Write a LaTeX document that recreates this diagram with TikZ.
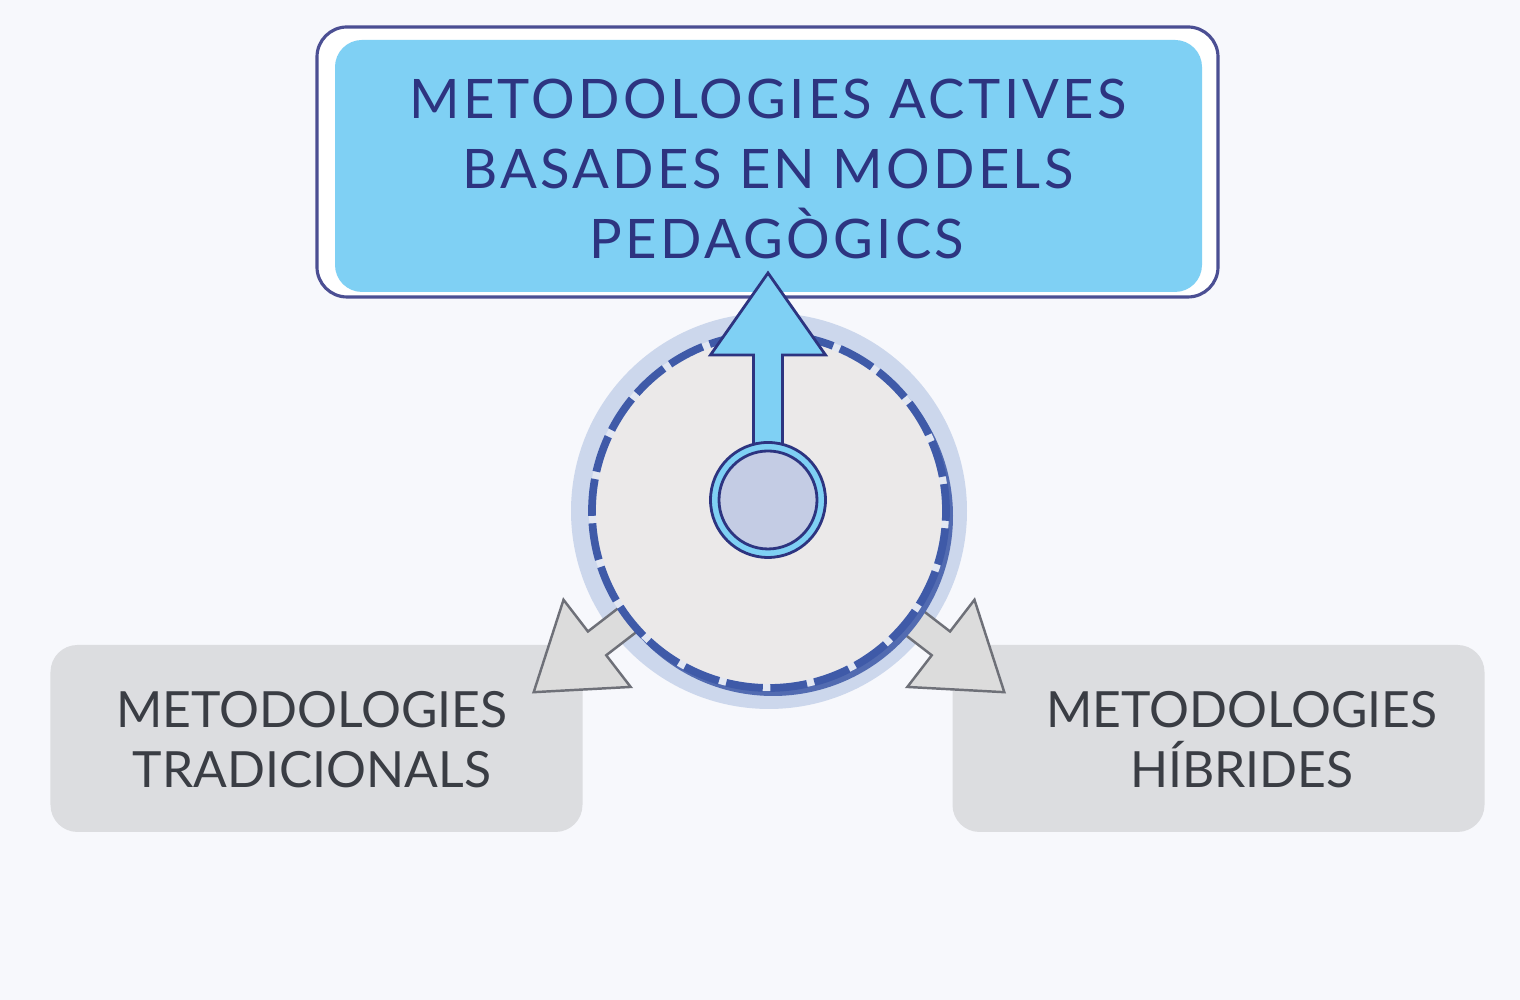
\documentclass[tikz,border=0pt]{standalone}
\usepackage{fontspec}
\setmainfont{Lato}
\newfontfamily\titlefont[LetterSpace=6]{Lato}
\usetikzlibrary{calc}
\definecolor{pagebg}{HTML}{F7F8FC}
\definecolor{framenavy}{HTML}{4B4F93}
\definecolor{skyfill}{HTML}{7FD0F4}
\definecolor{titleink}{HTML}{2D3480}
\definecolor{haloblue}{HTML}{CCD7EC}
\definecolor{ringblue}{HTML}{3F5AA8}
\definecolor{ringgap}{HTML}{E2E7F2}
\definecolor{discgray}{HTML}{EBE9E9}
\definecolor{coreblue}{HTML}{C4CCE4}
\definecolor{arrowgray}{HTML}{DCDCDC}
\definecolor{arrowedge}{HTML}{6E7078}
\definecolor{boxgray}{HTML}{DCDDE0}
\definecolor{boxink}{HTML}{3A3D44}
\tikzset{
  topbox/.style={fill=skyfill, rounded corners=0.27cm, minimum width=8.67cm, minimum height=2.52cm},
  sidebox/.style={fill=boxgray, rounded corners=0.27cm, minimum width=5.32cm, minimum height=1.87cm},
  sidetext/.style={text=boxink, align=center, font=\fontsize{14.2}{17.1}\selectfont},
  grayarrow/.style={fill=arrowgray, draw=arrowedge, line width=0.7pt, line join=miter},
  bluearrow/.style={fill=skyfill, draw=titleink, line width=0.8pt, line join=miter}
}
\begin{document}
\begin{tikzpicture}
			%%%%% START %%%%%
			
			\useasboundingbox (0, 0) rectangle (15.2, 10);
			\fill[pagebg] (0, 0) rectangle (15.2, 10);
			
			% top box
			\draw[framenavy, line width=0.9pt, fill=white, rounded corners=0.3cm] (3.17, 7.03) rectangle (12.18, 9.73);
			\node[topbox] (top) at (7.685, 8.34) {};
			\node[text=titleink, align=center, font=\titlefont\fontsize{15.5}{19.9}\selectfont] (toptext) at (7.68, 8.31)
				{METODOLOGIES ACTIVES\\ BASADES EN MODELS\hspace*{0.2cm}\\ \hspace*{0.18cm}PEDAGÒGICS};
			
			% bottom boxes
			\node[sidebox] (left) at (3.165, 2.615) {};
			\node[sidetext] (lefttext) at (3.12, 2.6) {METODOLOGIES\\ TRADICIONALS};
			\node[sidebox] (right) at (12.185, 2.615) {};
			\node[sidetext] (righttext) at (12.42, 2.6) {METODOLOGIES\\ HÍBRIDES};
			
			% hub
			\coordinate (hub) at (7.69, 4.89);
			\fill[haloblue] (hub) circle (1.98);
			
			\begin{scope}[shift={(hub)}, rotate=217.6]
				\draw[grayarrow] (1.4, -0.15) -- (2.17, -0.15) -- (2.17, -0.55) -- (2.97, 0) -- (2.17, 0.55) -- (2.17, 0.15) -- (1.4, 0.15) -- cycle;
			\end{scope}
			\begin{scope}[shift={(hub)}, rotate=-37.6]
				\draw[grayarrow] (1.4, -0.15) -- (2.17, -0.15) -- (2.17, -0.55) -- (2.97, 0) -- (2.17, 0.55) -- (2.17, 0.15) -- (1.4, 0.15) -- cycle;
			\end{scope}
			
			\fill[ringblue!90] ($(hub)+(0.04, -0.05)$) circle (1.80);
			\fill[ringgap] (hub) circle (1.80);
			\fill[discgray] (hub) circle (1.73);
			\draw[ringblue, line width=2.2pt, dash pattern=on 0.37cm off 0.075cm, dash phase=0.1cm] (hub) circle (1.77);
			
			% up arrow
			\coordinate (core) at (7.68, 5.0);
			\draw[bluearrow] (7.535, 5.5) -- (7.535, 6.45) -- (7.105, 6.45) -- (7.68, 7.27) -- (8.255, 6.45) -- (7.825, 6.45) -- (7.825, 5.5) -- cycle;
			\draw[bluearrow] (core) circle (0.575);
			\draw[fill=coreblue, draw=titleink, line width=0.8pt] (core) circle (0.49);
			
			%%%%% END %%%%%
\end{tikzpicture}
\end{document}
